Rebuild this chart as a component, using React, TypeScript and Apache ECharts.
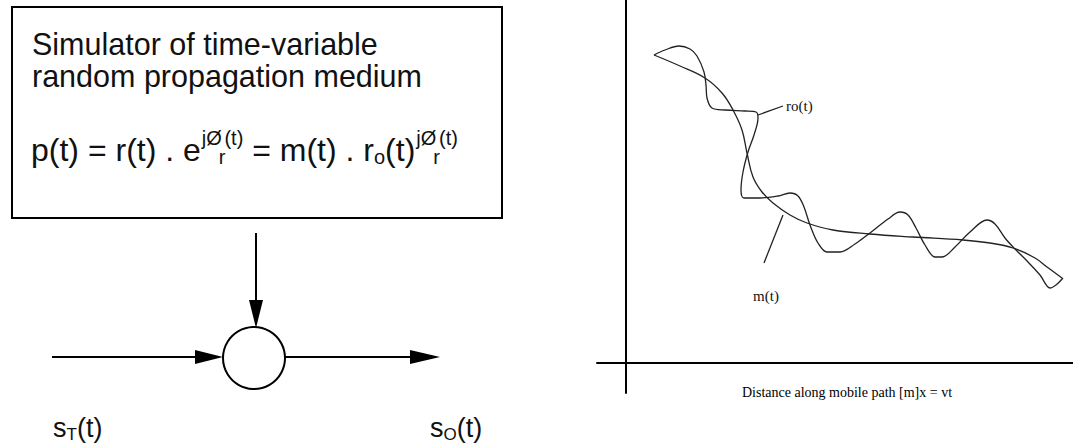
import React, { useEffect, useRef } from "react";
import * as echarts from "echarts";

// ---- data (distance along path vs. received level, arbitrary units) ----
const M_DIST = [28, 54, 79, 96, 107, 116, 121, 127, 136, 147, 164, 181, 207, 244, 287, 337, 364, 387, 409, 421, 436];
const M_LEVEL = [308, 297, 285, 270, 253, 233, 210, 186, 171, 160, 148, 140, 133, 129, 126, 123, 120, 115, 105, 96, 85];

const RO_DIST = [28, 39, 53, 64, 71, 78, 80, 81, 86, 99, 119, 130, 132, 128, 122, 117, 115, 118, 134, 152, 164, 172, 178, 184, 192, 201, 214, 229, 244, 262, 274, 282, 290, 299, 309, 316, 329, 344, 361, 369, 379, 389, 402, 414, 424, 430, 437];
const RO_LEVEL = [308, 313, 317, 314, 307, 291, 278, 265, 255, 253, 252, 251, 245, 228, 211, 191, 173, 165, 165, 167, 170, 167, 156, 138, 120, 111, 111, 119, 130, 144, 151, 148, 135, 118, 106, 106, 116, 131, 143, 139, 125, 114, 101, 88, 75, 78, 85];

const RO_LEADER_DIST = [132, 157];
const RO_LEADER_LEVEL = [248, 257];
const M_LEADER_DIST = [157, 138];
const M_LEADER_LEVEL = [148, 100];

const X_TITLE = "Distance along mobile path [m]x = vt";
const RO_LABEL = "ro(t)";
const M_LABEL = "m(t)";
const BOX_LINES = ["Simulator of time-variable", "random propagation medium"];

const SANS = '"Liberation Sans", Arial, Helvetica, sans-serif';
const SERIF = '"Liberation Serif", "Times New Roman", serif';

let measureCtx: CanvasRenderingContext2D | null = null;
function measure(text: string, size: number, family: string = SANS): number {
  if (!measureCtx) measureCtx = document.createElement("canvas").getContext("2d");
  if (!measureCtx) return text.length * size * 0.5;
  measureCtx.font = `${size}px ${family}`;
  return measureCtx.measureText(text).width;
}

function txt(text: string, x: number, baseline: number, size: number, family: string = SANS, central = 0.3465) {
  return {
    type: "text",
    x,
    y: baseline - central * size,
    silent: true,
    style: {
      text,
      x: 0,
      y: 0,
      fontSize: size,
      fontFamily: family,
      fill: "#111",
      align: "left",
      textAlign: "left",
      verticalAlign: "middle",
      textVerticalAlign: "middle",
    },
  };
}

function zip(xs: number[], ys: number[]) {
  return xs.map((x, i) => [x, ys[i]]);
}

export default function App() {
  const ref = useRef<HTMLDivElement>(null);

  useEffect(() => {
    if (!ref.current) return;
    const chart = echarts.init(ref.current, null, { renderer: "svg" });

    const graphics: any[] = [];
    // box
    graphics.push({
      type: "rect",
      silent: true,
      shape: { x: 12, y: 7, width: 490, height: 211 },
      style: { fill: "none", stroke: "#000", lineWidth: 2 },
    });
    graphics.push(txt(BOX_LINES[0], 32, 55, 30.5));
    graphics.push(txt(BOX_LINES[1], 32, 86.5, 30.5));

    // formula
    const MAIN = 32, SMALL = 20;
    const base = 161, supB = 145, subB = 164;
    let cx = 31;
    const put = (text: string, size: number, b: number, dx = 0) => {
      cx += dx;
      graphics.push(txt(text, cx, b, size));
      cx += measure(text, size);
    };
    const sp = measure(" ", MAIN);
    put("p(t) = r(t) . e", MAIN, base);
    put("jØ", SMALL, supB, 1);
    put("r", SMALL, subB, -3);
    put("(t)", SMALL, supB, -1);
    put("= m(t) . r", MAIN, base, sp);
    put("o", SMALL, subB, 0);
    put("(t)", MAIN, base);
    put("jØ", SMALL, supB, 1);
    put("r", SMALL, subB, -3);
    put("(t)", SMALL, supB, -1);

    // block diagram
    const stroke = { stroke: "#000", lineWidth: 2 };
    graphics.push({ type: "line", silent: true, shape: { x1: 256, y1: 233, x2: 256, y2: 302 }, style: stroke });
    graphics.push({ type: "polygon", silent: true, shape: { points: [[249, 300], [263, 300], [256, 328]] }, style: { fill: "#000" } });
    graphics.push({ type: "circle", silent: true, shape: { cx: 254, cy: 358, r: 31 }, style: { fill: "#fff", stroke: "#000", lineWidth: 2 } });
    graphics.push({ type: "line", silent: true, shape: { x1: 52, y1: 357, x2: 197, y2: 357 }, style: stroke });
    graphics.push({ type: "polygon", silent: true, shape: { points: [[195, 350], [195, 364], [223, 357]] }, style: { fill: "#000" } });
    graphics.push({ type: "line", silent: true, shape: { x1: 285, y1: 357, x2: 412, y2: 357 }, style: stroke });
    graphics.push({ type: "polygon", silent: true, shape: { points: [[410, 350], [410, 364], [440, 357]] }, style: { fill: "#000" } });

    const label = (x0: number, small: string) => {
      cx = x0;
      put("s", 27, 437);
      put(small, 17, 440);
      put("(t)", 27, 437);
    };
    label(53, "T");
    label(430, "O");

    const lineColor = "#222";
    const option: any = {
      animation: false,
      backgroundColor: "#fff",
      grid: { left: 597, right: 0, top: 0, bottom: 51, containLabel: false, outerBoundsMode: "none" },
      xAxis: {
        type: "value",
        min: -29,
        max: 447,
        name: X_TITLE,
        nameLocation: "middle",
        nameGap: -8,
        nameTextStyle: { fontFamily: SERIF, fontSize: 14, color: "#000", padding: [0, 0, 0, 24] },
        axisLine: { show: true, onZero: true, lineStyle: { color: "#000", width: 2 } },
        axisTick: { show: false },
        axisLabel: { show: false },
        splitLine: { show: false },
      },
      yAxis: {
        type: "value",
        min: -30,
        max: 363,
        axisLine: { show: true, onZero: true, lineStyle: { color: "#000", width: 2 } },
        axisTick: { show: false },
        axisLabel: { show: false },
        splitLine: { show: false },
      },
      series: [
        {
          name: "m(t)",
          type: "line",
          data: zip(M_DIST, M_LEVEL),
          smooth: 0.4,
          symbol: "none",
          clip: false,
          lineStyle: { color: lineColor, width: 1.3 },
          silent: true,
        },
        {
          name: "ro(t)",
          type: "line",
          data: zip(RO_DIST, RO_LEVEL),
          smooth: 0.35,
          symbol: "none",
          clip: false,
          lineStyle: { color: lineColor, width: 1.3 },
          silent: true,
        },
        {
          name: "ro leader",
          type: "line",
          symbol: "circle",
          symbolSize: 0,
          showSymbol: true,
          lineStyle: { color: lineColor, width: 1.3 },
          itemStyle: { color: lineColor },
          silent: true,
          data: [
            { value: [RO_LEADER_DIST[0], RO_LEADER_LEVEL[0]] },
            {
              value: [RO_LEADER_DIST[1], RO_LEADER_LEVEL[1]],
              label: {
                show: true,
                formatter: RO_LABEL,
                position: "right",
                distance: 3,
                fontFamily: SERIF,
                fontSize: 15,
                color: "#111",
              },
            },
          ],
        },
        {
          name: "m leader",
          type: "line",
          symbol: "circle",
          symbolSize: 0,
          showSymbol: true,
          lineStyle: { color: lineColor, width: 1.3 },
          itemStyle: { color: lineColor },
          silent: true,
          data: [
            { value: [M_LEADER_DIST[0], M_LEADER_LEVEL[0]] },
            {
              value: [M_LEADER_DIST[1], M_LEADER_LEVEL[1]],
              label: {
                show: true,
                formatter: M_LABEL,
                position: "bottom",
                distance: 25,
                offset: [2, 0],
                fontFamily: SERIF,
                fontSize: 15,
                color: "#111",
              },
            },
          ],
        },
      ],
      graphic: { elements: graphics },
    };

    chart.setOption(option);
    return () => chart.dispose();
  }, []);

  return (
    <div
      ref={ref}
      style={{ position: "absolute", left: 0, top: 0, width: 1073, height: 444, background: "#fff" }}
    />
  );
}
